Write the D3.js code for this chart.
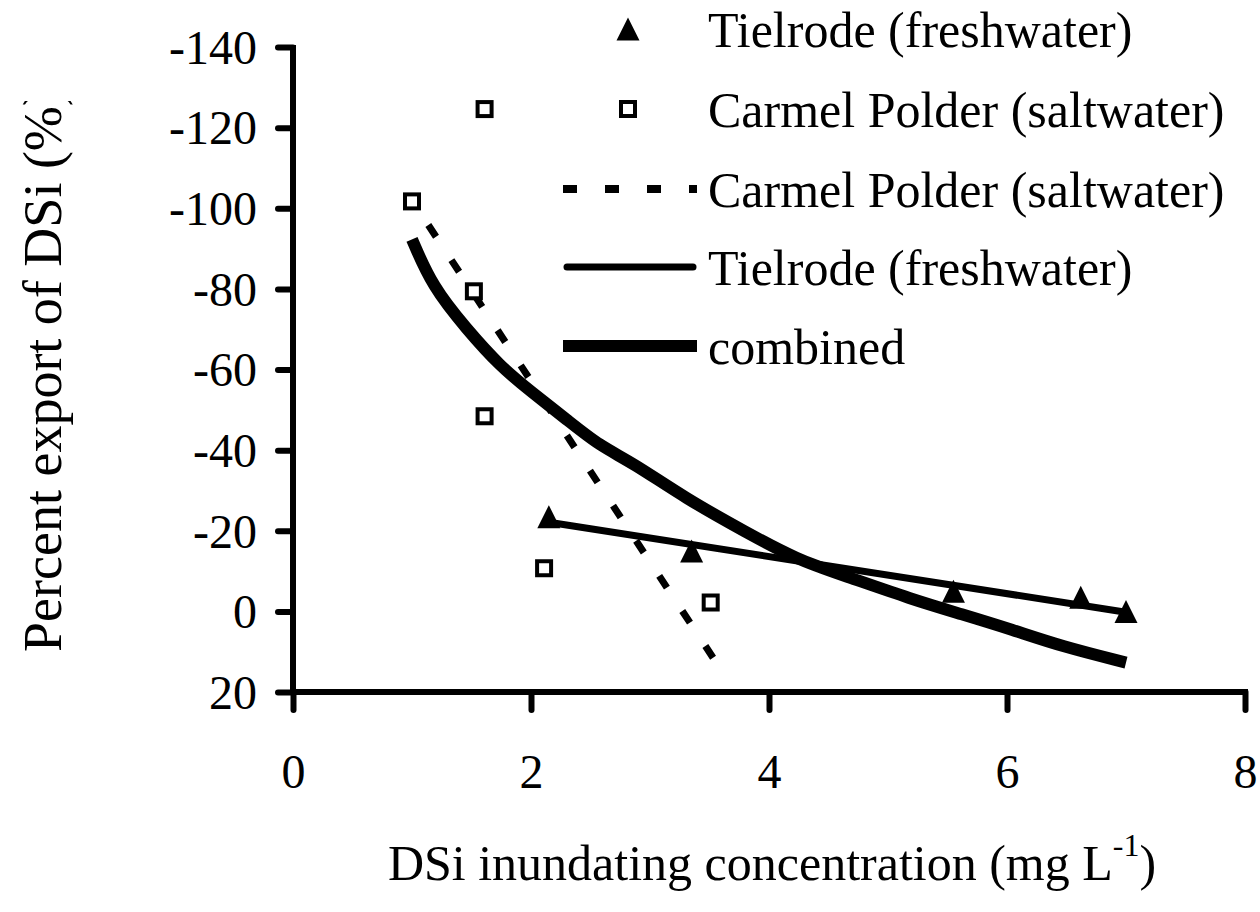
<!DOCTYPE html>
<html>
<head>
<meta charset="utf-8">
<script src="https://cdn.jsdelivr.net/npm/d3@7"></script>
<style>
  body { margin: 0; background: #fff; }
  svg text { font-family: "Liberation Serif", "Times New Roman", serif; fill: #000; }
</style>
</head>
<body>
<svg id="chart" width="1260" height="912"></svg>
<script>
// Tielrode (freshwater) measurements
var tielrodeX = [2.15, 3.35, 5.55, 6.62, 7.0];
var tielrodeY = [-23.5, -15, -5, -3.5, 0];
// Carmel Polder (saltwater) measurements
var carmelX = [1.0, 1.61, 1.52, 1.61, 2.11, 3.51];
var carmelY = [-101.7, -124.6, -79.4, -48.4, -10.7, -2.2];
// fitted lines
var carmelFitX = [1.0, 3.53];
var carmelFitY = [-102, 11.5];
var tielrodeFitX = [2.15, 7.0];
var tielrodeFitY = [-22.1, 0.2];
var combinedX = [1.0, 1.17, 1.46, 1.74, 2.01, 2.30, 2.58, 2.85, 3.3, 3.81, 4.23, 4.65, 5.2, 5.62, 6.04, 6.46, 7.0];
var combinedY = [-92.3, -80.6, -70, -60.8, -54.3, -47.6, -41, -37, -28, -19.6, -12.9, -8.7, -3, 0.7, 4.5, 8.7, 12.7];

var xTicks = [0, 2, 4, 6, 8];
var yTicks = [-140, -120, -100, -80, -60, -40, -20, 0, 20];
var legendLabels = ['Tielrode (freshwater)', 'Carmel Polder (saltwater)', 'Carmel Polder (saltwater)', 'Tielrode (freshwater)', 'combined'];

var svg = d3.select('#chart');

var x = d3.scaleLinear().domain([0, 8]).range([293, 1245]);
var y = d3.scaleLinear().domain([-140, 20]).range([47, 692]);

function zip(xs, ys) {
  return xs.map(function(v, i) { return [v, ys[i]]; });
}

// axes (plain hyphen for negative labels, like the original)
var yAxis = svg.append('g')
  .attr('transform', 'translate(' + x(0) + ',0)')
  .call(d3.axisLeft(y).tickValues(yTicks).tickSize(15).tickFormat(function(d) { return String(d); }));
var xAxis = svg.append('g')
  .attr('transform', 'translate(0,' + y(20) + ')')
  .call(d3.axisBottom(x).tickValues(xTicks).tickSize(18).tickFormat(function(d) { return String(d); }));

[xAxis, yAxis].forEach(function(ax) {
  ax.select('.domain').remove();
  ax.selectAll('.tick line').attr('stroke', '#000').attr('stroke-width', 6).attr('stroke-linecap', 'round');
  ax.selectAll('.tick text').attr('font-size', 48).attr('font-family', '"Liberation Serif", serif').attr('fill', '#000');
});
yAxis.selectAll('.tick text').attr('x', -36).attr('dy', '0.34em');
xAxis.selectAll('.tick text').attr('y', 62).attr('dy', '0.71em');

svg.append('line')
  .attr('x1', x(0)).attr('x2', x(0)).attr('y1', y(-140) - 2).attr('y2', y(20) + 3)
  .attr('stroke', '#000').attr('stroke-width', 6);
svg.append('line')
  .attr('x1', x(0) - 3).attr('x2', x(8) + 3).attr('y1', y(20)).attr('y2', y(20))
  .attr('stroke', '#000').attr('stroke-width', 6);

// axis titles - the y title is cut off at the top in the original
svg.append('clipPath').attr('id', 'ylabclip')
  .append('rect').attr('x', 0).attr('y', 101).attr('width', 120).attr('height', 700);
svg.append('g')
  .attr('clip-path', 'url(#ylabclip)')
  .append('text')
  .attr('transform', 'translate(61,652) rotate(-90)')
  .attr('font-size', 54)
  .text('Percent export of DSi (%)');

var xl = svg.append('text')
  .attr('x', 772).attr('y', 880)
  .attr('text-anchor', 'middle')
  .attr('font-size', 50);
xl.append('tspan').text('DSi inundating concentration (mg L');
xl.append('tspan').attr('font-size', 32).attr('dy', -24).text('-1');
xl.append('tspan').attr('dy', 24).text(')');

// lines
var line = d3.line().x(function(d) { return x(d[0]); }).y(function(d) { return y(d[1]); });

var dashed = svg.append('path')
  .datum(zip(carmelFitX, carmelFitY))
  .attr('d', line)
  .attr('fill', 'none').attr('stroke', '#000').attr('stroke-width', 7)
  .attr('stroke-dasharray', '14,28');
// let the pattern finish on a dash at the lower end
var len = dashed.node().getTotalLength();
dashed.attr('stroke-dashoffset', 42 - ((len - 14) % 42));

svg.append('path')
  .datum(zip(combinedX, combinedY))
  .attr('d', line.curve(d3.curveBasis))
  .attr('fill', 'none').attr('stroke', '#000').attr('stroke-width', 12);
line.curve(d3.curveLinear);

svg.append('path')
  .datum(zip(tielrodeFitX, tielrodeFitY))
  .attr('d', line)
  .attr('fill', 'none').attr('stroke', '#000').attr('stroke-width', 7)
  .attr('stroke-linecap', 'round');

// markers
function triangle(cx, cy) {
  return 'M' + cx + ',' + (cy - 11.5) + 'L' + (cx + 11.5) + ',' + (cy + 11.5) + 'L' + (cx - 11.5) + ',' + (cy + 11.5) + 'Z';
}

svg.append('g').selectAll('path')
  .data(zip(tielrodeX, tielrodeY))
  .join('path')
  .attr('d', function(d) { return triangle(x(d[0]), y(d[1])); })
  .attr('fill', '#000');

svg.append('g').selectAll('rect')
  .data(zip(carmelX, carmelY))
  .join('rect')
  .attr('x', function(d) { return x(d[0]) - 7; })
  .attr('y', function(d) { return y(d[1]) - 7; })
  .attr('width', 14).attr('height', 14)
  .attr('fill', '#fff').attr('stroke', '#000').attr('stroke-width', 4);

// legend
var legY = [29, 109, 189, 267, 346];
var leg = svg.append('g');
leg.append('path').attr('d', triangle(628, legY[0])).attr('fill', '#000');
leg.append('rect').attr('x', 621).attr('y', legY[1] - 7).attr('width', 14).attr('height', 14)
  .attr('fill', '#fff').attr('stroke', '#000').attr('stroke-width', 4);
leg.append('line').attr('x1', 563).attr('x2', 697).attr('y1', legY[2]).attr('y2', legY[2])
  .attr('stroke', '#000').attr('stroke-width', 8).attr('stroke-dasharray', '14,28');
leg.append('line').attr('x1', 567).attr('x2', 693).attr('y1', legY[3]).attr('y2', legY[3])
  .attr('stroke', '#000').attr('stroke-width', 7).attr('stroke-linecap', 'round');
leg.append('line').attr('x1', 563).attr('x2', 697).attr('y1', legY[4]).attr('y2', legY[4])
  .attr('stroke', '#000').attr('stroke-width', 12);

leg.selectAll('text')
  .data(legendLabels)
  .join('text')
  .attr('x', 708)
  .attr('y', function(d, i) { return legY[i] + 18; })
  .attr('font-size', 50)
  .text(function(d) { return d; });
</script>
</body>
</html>
